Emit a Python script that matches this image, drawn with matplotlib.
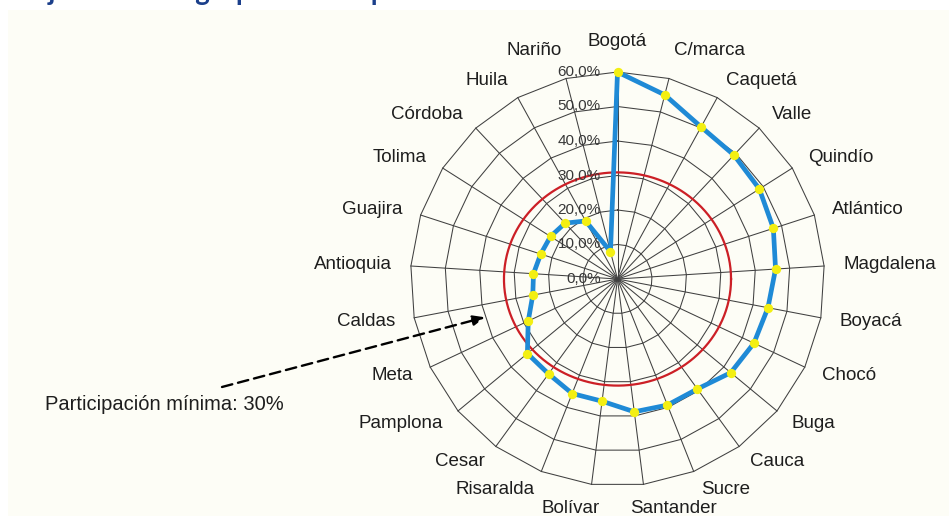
import numpy as np
import matplotlib
matplotlib.use('Agg')
import matplotlib.pyplot as plt
from matplotlib.patches import Rectangle

plt.rcParams['font.family'] = ['Liberation Sans', 'DejaVu Sans']

# ---------------- data ----------------
categories = ['Bogotá', 'C/marca', 'Caquetá', 'Valle', 'Quindío', 'Atlántico',
              'Magdalena', 'Boyacá', 'Chocó', 'Buga', 'Cauca', 'Sucre',
              'Santander', 'Bolívar', 'Risaralda', 'Cesar', 'Pamplona', 'Meta',
              'Caldas', 'Antioquia', 'Guajira', 'Tolima', 'Córdoba', 'Huila',
              'Nariño']
shares = [60.0, 55.1, 50.3, 49.3, 48.7, 47.5,
          45.9, 44.4, 43.7, 42.6, 39.4, 39.3,
          38.8, 35.7, 35.7, 34.0, 33.9, 28.6,
          25.0, 24.4, 23.4, 23.0, 22.2, 19.2,
          8.2]
ticks = [0, 10, 20, 30, 40, 50, 60]
tick_labels = ['0,0%', '10,0%', '20,0%', '30,0%', '40,0%', '50,0%', '60,0%']
min_share = 30
annotation_text = 'Participación mínima: 30%'
title_text = 'Flujo anual del grupo en este periodo'

# ---------------- style ----------------
W, H = 949, 516
BLUE = '#1f8ad6'
YELLOW = '#f3ef12'
RED = '#cc1f26'
GRID = '#404040'
TXT = '#1e1e1e'

fig = plt.figure(figsize=(W / 100, H / 100), dpi=100, facecolor='white')
fig.patches.append(Rectangle((8 / W, 0), 1 - 8 / W, 1 - 9.5 / H,
                             transform=fig.transFigure, facecolor='#fdfdf6',
                             edgecolor='none', zorder=-10))

cx, cy, R = 617.5, 279.0, 207.0
ax = fig.add_axes([(cx - R) / W, (H - cy - R) / H, 2 * R / W, 2 * R / H],
                  projection='polar')
ax.set_zorder(1)
ax.set_theta_zero_location('N')
ax.set_theta_direction(-1)
rmax = ticks[-1]
ax.set_ylim(0, rmax)
ax.set_axis_off()

n = len(categories)
theta = np.arange(n) * 2 * np.pi / n
theta_c = np.append(theta, theta[0])

# polygonal grid
for t in ticks[1:]:
    ax.plot(theta_c, [t] * (n + 1), color=GRID, lw=0.75, zorder=1, clip_on=False)
for th in theta:
    ax.plot([th, th], [0, rmax], color=GRID, lw=0.75, zorder=1, clip_on=False)

# minimum participation ring (hand-drawn, slightly oval)
phi = np.linspace(0, 2 * np.pi, 400)
a, b = min_share * 1.097, min_share * 1.03
r_ell = a * b / np.sqrt((b * np.cos(phi)) ** 2 + (a * np.sin(phi)) ** 2)
ax.plot(np.pi / 2 - phi, r_ell, color=RED, lw=1.6, zorder=2, clip_on=False)

# data
ax.plot(theta_c, np.append(shares, shares[0]), color=BLUE, lw=3.4, zorder=3,
        solid_joinstyle='round', clip_on=False)
ax.plot(theta, shares, 'o', ms=6.7, color=YELLOW, mec='none', zorder=4,
        clip_on=False)

# radial tick labels
for v, lab in zip(ticks, tick_labels):
    ax.annotate(lab, xy=(0, v), xytext=(-12, 0), textcoords='offset points',
                ha='right', va='center', fontsize=11, color='#383838',
                zorder=5, annotation_clip=False)

# category labels
texts = []
for th, lab in zip(theta, categories):
    t = ax.annotate(lab, xy=(th, rmax), xytext=(0, 0), textcoords='offset points',
                    ha='center', va='center', fontsize=13.5, color=TXT,
                    annotation_clip=False)
    texts.append(t)
fig.canvas.draw()
renderer = fig.canvas.get_renderer()
gap = 19.0
for t, th in zip(texts, theta):
    bb = t.get_window_extent(renderer)
    w, h = bb.width, bb.height
    ang = np.pi / 2 - th
    c, s = np.cos(ang), np.sin(ang)
    fx = np.clip(c / 0.2, -1, 1)
    gy = np.clip((abs(s) - 0.93) / 0.05, 0, 1) * (1.4 if s > 0 else 0.6)
    dx = gap * c + fx * w / 2
    dy = gap * s + np.sign(s) * gy * h / 2
    t.xyann = (dx * 0.72, dy * 0.72)

# annotation arrow + text
ax.annotate('', xy=(np.deg2rad(253.9), 40), xytext=(222 / W, 1 - 387 / H),
            textcoords='figure fraction',
            arrowprops=dict(arrowstyle='-|>,head_length=0.7,head_width=0.3',
                            color='black', lw=1.7, linestyle=(0, (4.5, 2.5)),
                            shrinkA=0, shrinkB=0),
            annotation_clip=False, zorder=6)
fig.text(45 / W, 1 - 404 / H, annotation_text, fontsize=14.5, ha='left',
         va='center', color=TXT)

# title (cut off at the top of the picture)
fig.text(10 / W, 1.0, title_text, fontsize=20, fontweight='bold',
         color='#1b3f8b', ha='left', va='baseline', family=['Lato', 'DejaVu Sans'])

fig.savefig('out.png', dpi=100, facecolor='white')
